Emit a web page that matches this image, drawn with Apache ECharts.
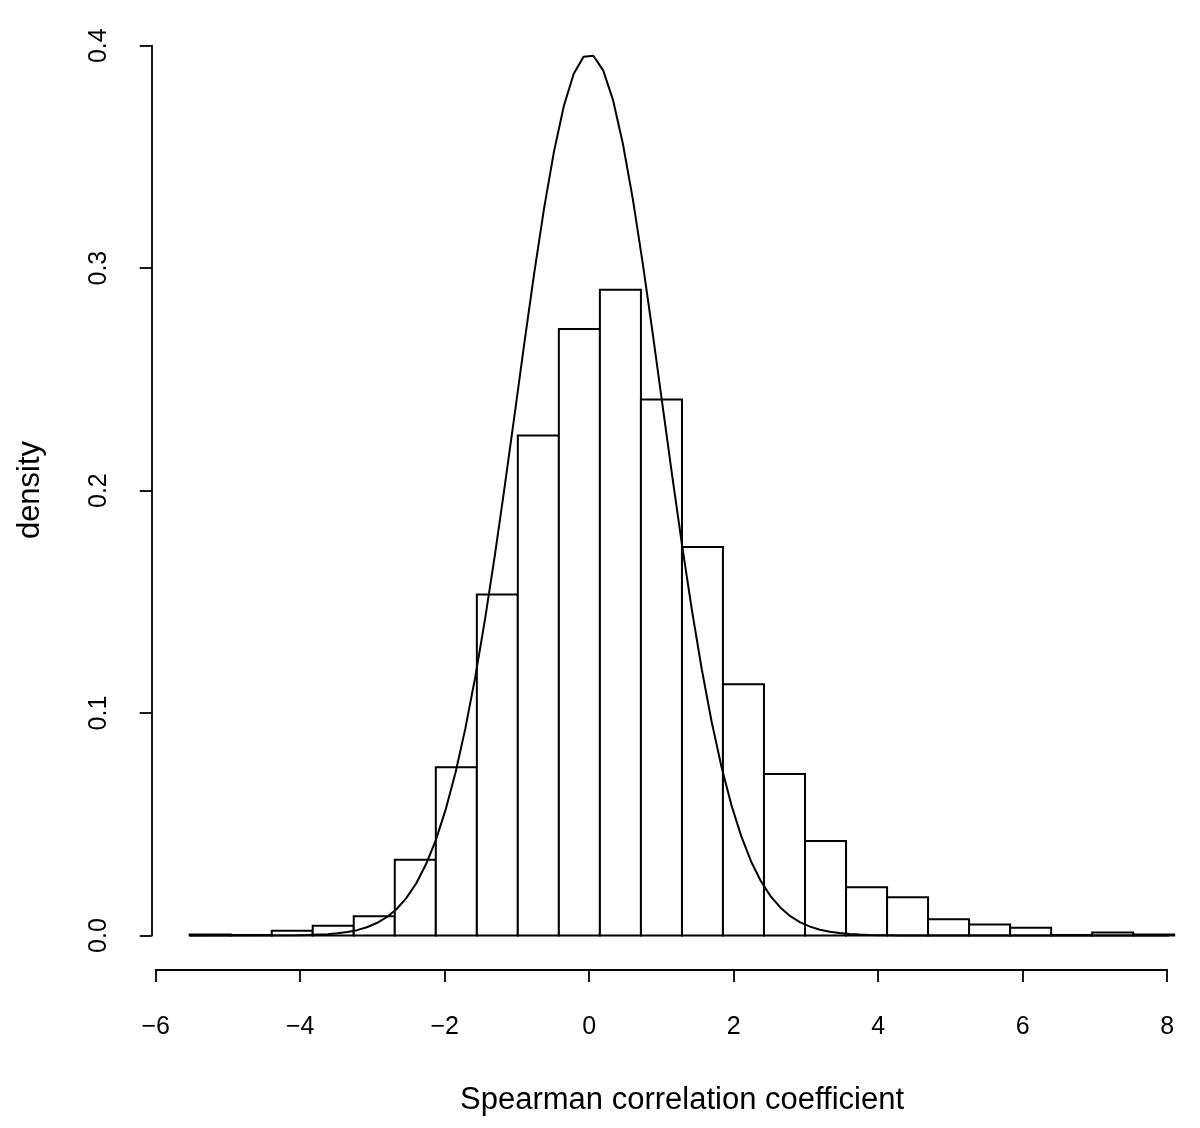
<!DOCTYPE html>
<html>
<head>
<meta charset="utf-8">
<script src="https://cdn.jsdelivr.net/npm/echarts@6/dist/echarts.min.js"></script>
<style>
html,body{margin:0;padding:0;background:#fff;}
#chart{width:1200px;height:1128px;}
</style>
</head>
<body>
<div id="chart"></div>
<script>
// Histogram bin edges (Spearman correlation coefficient)
const binEdges = [-5.530, -4.962, -4.394, -3.827, -3.259, -2.691, -2.123, -1.555, -0.988, -0.420,
  0.148, 0.716, 1.284, 1.851, 2.419, 2.987, 3.555, 4.123, 4.690, 5.258, 5.826, 6.394, 6.962, 7.529, 8.097];
// Histogram densities per bin
const binDensity = [0.0005, 0.0002, 0.0021, 0.0044, 0.0086, 0.0341, 0.0756, 0.1533, 0.2248, 0.2727,
  0.2903, 0.2409, 0.1747, 0.1130, 0.0726, 0.0425, 0.0217, 0.0172, 0.0073, 0.0050, 0.0035, 0.0002, 0.0014, 0.0004];
// Reference density curve, x positions
const curveX = [-5.530, -4.031, -3.895, -3.759, -3.622, -3.486, -3.350, -3.213, -3.077, -2.941, -2.804,
  -2.668, -2.532, -2.395, -2.259, -2.123, -1.986, -1.850, -1.714, -1.577, -1.441, -1.305, -1.168,
  -1.032, -0.896, -0.760, -0.623, -0.487, -0.351, -0.214, -0.078, 0.058, 0.195, 0.331, 0.467, 0.604,
  0.740, 0.876, 1.012, 1.149, 1.285, 1.421, 1.558, 1.694, 1.830, 1.967, 2.103, 2.239, 2.375, 2.512,
  2.648, 2.784, 2.921, 3.057, 3.193, 3.330, 3.466, 3.602, 3.739, 3.875, 4.011, 4.148, 4.284, 8.097];
// Reference density curve, y values
const curveY = [0.0000, 0.0001, 0.0002, 0.0004, 0.0006, 0.0010, 0.0016, 0.0024, 0.0037, 0.0056, 0.0082,
  0.0118, 0.0168, 0.0234, 0.0320, 0.0429, 0.0567, 0.0733, 0.0931, 0.1162, 0.1423, 0.1711, 0.2022,
  0.2343, 0.2667, 0.2980, 0.3272, 0.3525, 0.3729, 0.3874, 0.3950, 0.3955, 0.3888, 0.3754, 0.3558, 0.3310,
  0.3024, 0.2714, 0.2391, 0.2066, 0.1755, 0.1464, 0.1197, 0.0962, 0.0760, 0.0588, 0.0448, 0.0334, 0.0245, 0.0176,
  0.0125, 0.0087, 0.0059, 0.0040, 0.0026, 0.0017, 0.0011, 0.0007, 0.0004, 0.0002, 0.0001, 0.0001, 0.0000, 0.0000];
// Axis ticks
const xTicks = [-6, -4, -2, 0, 2, 4, 6, 8];
const yTicks = [0, 0.1, 0.2, 0.3, 0.4];
const xTitle = 'Spearman correlation coefficient';
const yTitle = 'density';

const FONT = '"Liberation Sans", Arial, Helvetica, sans-serif';
const chart = echarts.init(document.getElementById('chart'), null, {renderer: 'canvas'});

const histData = binDensity.map((d, i) => [binEdges[i], binEdges[i + 1], d]);
const curveData = curveX.map((x, i) => [x, curveY[i]]);

chart.setOption({
  animation: false,
  backgroundColor: '#ffffff',
  grid: {left: 155.7, right: 32.8, top: 45.7, bottom: 192.5, containLabel: false},
  xAxis: {
    type: 'value',
    min: xTicks[0], max: xTicks[xTicks.length - 1], interval: 2,
    offset: 34.5,
    splitLine: {show: false},
    axisLine: {show: true, onZero: false, lineStyle: {color: '#000', width: 1.8}},
    axisTick: {show: true, length: 12, lineStyle: {color: '#000', width: 1.8}},
    axisLabel: {
      fontSize: 25, color: '#000', fontFamily: FONT, margin: 45,
      formatter: v => String(v).replace('-', '\u2212')
    }
  },
  yAxis: {
    type: 'value',
    min: yTicks[0], max: yTicks[yTicks.length - 1], interval: 0.1,
    offset: 4,
    splitLine: {show: false},
    axisLine: {show: true, onZero: false, lineStyle: {color: '#000', width: 1.8}},
    axisTick: {show: true, length: 12, lineStyle: {color: '#000', width: 1.8}},
    axisLabel: {
      fontSize: 25, color: '#000', fontFamily: FONT, margin: 40, rotate: 90,
      formatter: v => v.toFixed(1)
    }
  },
  series: [
    {
      type: 'custom',
      clip: false,
      data: histData,
      encode: {x: [0, 1], y: 2},
      renderItem: function (params, api) {
        const p0 = api.coord([api.value(0), 0]);
        const p1 = api.coord([api.value(1), api.value(2)]);
        return {
          type: 'rect',
          shape: {x: p0[0], y: p1[1], width: p1[0] - p0[0], height: p0[1] - p1[1]},
          style: {fill: '#fff', stroke: '#000', lineWidth: 2}
        };
      },
      z: 2
    },
    {
      type: 'line',
      clip: false,
      data: curveData,
      showSymbol: false,
      symbol: 'none',
      smooth: false,
      lineStyle: {color: '#000', width: 2},
      z: 3
    }
  ],
  graphic: [
    {
      type: 'text', x: 682, y: 1100,
      style: {text: xTitle, font: '31px ' + FONT, fill: '#000', textAlign: 'center', textVerticalAlign: 'middle'}
    },
    {
      type: 'text', x: 30, y: 490, rotation: Math.PI / 2,
      style: {text: yTitle, font: '31px ' + FONT, fill: '#000', textAlign: 'center', textVerticalAlign: 'middle'}
    }
  ]
});
</script>
</body>
</html>
